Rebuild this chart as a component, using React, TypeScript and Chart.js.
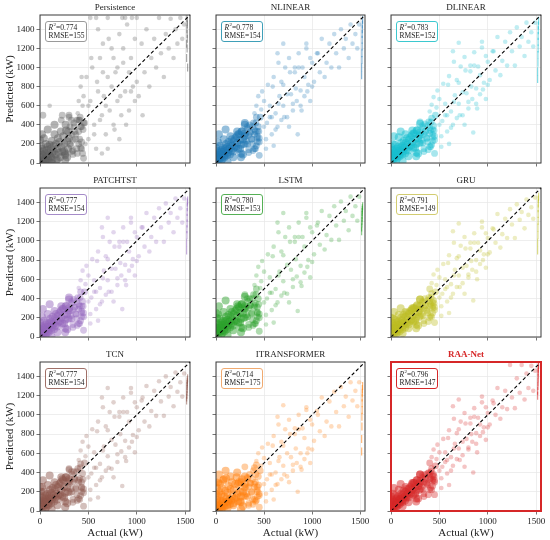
import React, { useEffect, useRef } from "react";
import { Chart, registerables } from "chart.js";

Chart.register(...registerables);

// ---------------- data ----------------
const MODELS = ["Persistence", "NLINEAR", "DLINEAR", "PATCHTST", "LSTM", "GRU", "TCN", "ITRANSFORMER", "RAA-Net"];
const R2_VALUES = ["0.774", "0.778", "0.783", "0.777", "0.780", "0.791", "0.777", "0.714", "0.796"];
const RMSE_VALUES = ["155", "154", "152", "154", "153", "149", "154", "175", "147"];
const X_TICKS = [0, 500, 1000, 1500];
const Y_TICKS = [0, 200, 400, 600, 800, 1000, 1200, 1400];
const AXIS_MAX = 1550;

// actual power (kW), shared test set (groups: low, low-2, low-3, mid, mid-2, high, rated)
const ACTUAL = [
  0, 0, 0, 5, 10, 10, 15, 20, 20, 25, 30, 35, 40, 40, 45, 50, 55, 60, 60, 65,
  70, 75, 80, 85, 90, 95, 100, 105, 110, 115, 120, 125, 130, 140, 145, 150, 160, 165, 170, 180,
  185, 190, 200, 210, 215, 220, 230, 240, 250, 260, 270, 280, 290, 300, 310, 320, 330, 340, 350, 360,
  20, 50, 80, 120, 150, 180, 220, 260, 300, 330, 370, 390, 400, 410, 420, 430, 440, 450, 30, 100,
  250, 265, 280, 295, 310, 325, 340, 355, 370, 385, 400, 415, 430, 445, 260, 300, 340, 380, 420, 230,
  380, 400, 410, 420, 430, 440, 450, 460, 480, 500, 520, 540, 560, 580, 600, 620, 640, 650, 660, 680,
  700, 720, 740, 760, 780, 800, 820, 840, 860, 880, 900, 920, 940, 960, 980, 1000, 450, 600, 700, 850,
  400, 430, 470, 500, 530, 560, 590, 620, 650, 680, 710, 740, 770, 800, 830, 860, 890, 920, 950, 980,
  520, 580, 640, 700, 760, 820, 880, 940, 1000, 1060,
  1020, 1050, 1080, 1100, 1130, 1150, 1180, 1200, 1230, 1250, 1280, 1300, 1330, 1350, 1380, 1400, 1420, 1450, 1470, 1490,
  1515, 1515, 1518, 1518, 1520, 1520, 1520, 1522, 1522, 1525,
];

const PRED_PERSISTENCE = [
  10, 120, 240, 60, 0, 180, 30, 90, 150, 5, 70, 20, 130, 260, 45, 100, 10, 200, 60, 30,
  140, 80, 170, 40, 110, 20, 190, 70, 150, 60, 230, 100, 40, 180, 120, 300, 90, 200, 30, 150,
  260, 110, 220, 60, 330, 170, 120, 280, 200, 100, 340, 230, 150, 260, 380, 180, 300, 240, 420, 330,
  300, 20, 350, 0, 400, 40, 450, 80, 500, 120, 300, 520, 200, 450, 380, 150, 600, 420, 500, 600,
  120, 400, 60, 330, 200, 450, 130, 380, 250, 100, 330, 480, 220, 350, 30, 480, 90, 450, 160, 500,
  150, 650, 250, 800, 380, 100, 700, 420, 900, 250, 650, 1000, 400, 150, 750, 1100, 500, 1250, 700, 300,
  900, 550, 1200, 400, 950, 650, 1350, 500, 1050, 750, 1450, 550, 1100, 800, 1300, 850, 50, 1400, 150, 1520,
  450, 900, 200, 600, 1100, 300, 850, 450, 950, 600, 1300, 800, 350, 1000, 700, 1200, 400, 950, 1520, 650,
  1520, 1520, 100, 1520, 1100, 250, 1520, 750, 1520, 500,
  700, 1250, 950, 1400, 800, 1100, 1300, 1000, 1520, 1150, 900, 1350, 1200, 1510, 1100, 1400, 1250, 1520, 1300, 1450,
  1100, 1250, 1400, 1520, 1350, 1480, 1200, 1300, 1450, 1000,
];
const PRED_NLINEAR = [
  40, 90, 160, 20, 60, 130, 80, 40, 110, 70, 30, 100, 60, 180, 90, 50, 140, 80, 120, 40,
  100, 160, 70, 120, 60, 150, 90, 200, 130, 80, 170, 110, 220, 150, 90, 200, 130, 250, 180, 120,
  230, 160, 260, 170, 280, 210, 150, 300, 240, 190, 330, 250, 200, 310, 280, 230, 360, 290, 400, 320,
  220, 0, 250, 10, 280, 60, 330, 100, 420, 200, 250, 420, 150, 330, 480, 260, 380, 220, 300, 350,
  150, 330, 90, 280, 200, 380, 140, 320, 250, 130, 300, 420, 220, 330, 60, 400, 110, 380, 180, 300,
  200, 520, 150, 600, 330, 700, 260, 480, 750, 380, 250, 820, 480, 300, 900, 520, 380, 1050, 700, 450,
  600, 1000, 480, 1100, 720, 550, 950, 650, 1150, 600, 1000, 700, 1200, 820, 650, 1050, 80, 180, 1250, 300,
  350, 280, 560, 650, 420, 600, 800, 350, 620, 850, 480, 720, 950, 620, 780, 1000, 550, 900, 750, 1100,
  150, 480, 1150, 820, 380, 1000, 760, 1250, 800, 1150,
  850, 1150, 950, 1300, 900, 1050, 1250, 1000, 1350, 1150, 1000, 1400, 1200, 1300, 1100, 1450, 1250, 1350, 1200, 1450,
  920, 1000, 1080, 1150, 1220, 1290, 1350, 1400, 1450, 1500,
];
const PRED_DLINEAR = [
  50, 100, 170, 30, 70, 140, 90, 50, 120, 80, 40, 110, 70, 190, 100, 60, 150, 90, 130, 50,
  110, 170, 80, 130, 70, 160, 100, 210, 140, 90, 180, 120, 230, 160, 100, 210, 140, 260, 190, 130,
  240, 170, 270, 180, 290, 220, 160, 310, 250, 200, 340, 260, 210, 320, 290, 240, 370, 300, 410, 330,
  200, 20, 270, 20, 300, 70, 340, 110, 430, 210, 260, 430, 170, 340, 470, 270, 390, 240, 280, 330,
  160, 340, 100, 290, 210, 390, 150, 330, 260, 140, 310, 430, 230, 340, 70, 410, 120, 390, 190, 310,
  220, 540, 170, 610, 350, 690, 280, 500, 760, 400, 280, 830, 500, 330, 910, 540, 400, 1060, 710, 470,
  620, 1010, 500, 1110, 730, 570, 960, 670, 1160, 620, 1010, 720, 1210, 840, 670, 1060, 100, 200, 1260, 320,
  370, 300, 580, 670, 440, 620, 820, 370, 640, 870, 500, 740, 970, 640, 800, 1020, 570, 920, 770, 1120,
  170, 500, 1170, 840, 400, 1020, 780, 1270, 820, 1170,
  870, 1170, 970, 1320, 920, 1070, 1270, 1020, 1370, 1170, 1020, 1420, 1220, 1320, 1120, 1470, 1270, 1370, 1220, 1470,
  880, 960, 1050, 1130, 1200, 1270, 1330, 1390, 1440, 1490,
];
const PRED_PATCHTST = [
  30, 80, 150, 20, 50, 120, 70, 30, 100, 60, 20, 90, 50, 170, 80, 40, 130, 70, 110, 30,
  90, 150, 60, 110, 50, 140, 80, 190, 120, 70, 160, 100, 210, 140, 80, 190, 120, 240, 170, 110,
  220, 150, 250, 160, 270, 200, 140, 290, 230, 180, 320, 240, 190, 300, 270, 220, 350, 280, 390, 310,
  210, 10, 240, 0, 270, 50, 320, 90, 410, 190, 240, 410, 140, 320, 470, 250, 370, 210, 290, 340,
  140, 320, 80, 270, 190, 370, 130, 310, 240, 120, 290, 410, 210, 320, 50, 390, 100, 370, 170, 290,
  190, 510, 140, 590, 320, 690, 250, 470, 740, 370, 240, 810, 470, 290, 890, 510, 370, 1040, 690, 440,
  590, 990, 470, 1090, 710, 540, 940, 640, 1140, 590, 990, 690, 1190, 810, 640, 1040, 70, 170, 1240, 290,
  340, 270, 550, 640, 410, 590, 790, 340, 610, 840, 470, 710, 940, 610, 770, 990, 540, 890, 740, 1090,
  140, 470, 1140, 810, 370, 990, 750, 1240, 790, 1140,
  840, 1140, 940, 1290, 890, 1040, 1240, 990, 1340, 1140, 990, 1390, 1190, 1290, 1090, 1440, 1240, 1340, 1190, 1440,
  900, 980, 1060, 1120, 1180, 1240, 1300, 1350, 1400, 1420,
];
const PRED_LSTM = [
  60, 150, 250, 40, 100, 200, 90, 50, 130, 80, 30, 120, 70, 190, 100, 60, 150, 90, 130, 40,
  110, 170, 70, 130, 60, 160, 100, 210, 140, 80, 180, 120, 230, 160, 100, 210, 140, 260, 180, 120,
  240, 160, 270, 170, 290, 220, 150, 310, 250, 190, 340, 250, 200, 320, 290, 230, 370, 300, 400, 330,
  240, 10, 260, 20, 290, 70, 340, 100, 440, 210, 240, 440, 140, 350, 500, 250, 400, 200, 320, 380,
  150, 340, 90, 300, 200, 400, 130, 330, 250, 120, 310, 440, 210, 340, 50, 420, 100, 400, 170, 320,
  180, 540, 140, 640, 310, 730, 240, 510, 790, 360, 230, 860, 460, 280, 940, 500, 360, 1090, 680, 430,
  580, 1040, 450, 1140, 700, 520, 990, 630, 1190, 570, 1040, 670, 1240, 800, 620, 1090, 60, 150, 1290, 270,
  330, 260, 580, 680, 400, 620, 840, 330, 640, 890, 460, 750, 990, 600, 810, 1040, 530, 940, 730, 1140,
  130, 460, 1190, 850, 360, 1040, 740, 1290, 780, 1190,
  860, 1160, 960, 1310, 910, 1060, 1260, 1010, 1360, 1160, 1010, 1410, 1210, 1310, 1110, 1460, 1260, 1360, 1210, 1460,
  1100, 1140, 1180, 1210, 1240, 1270, 1300, 1320, 1340, 1360,
];
const PRED_GRU = [
  50, 110, 200, 30, 80, 150, 90, 50, 120, 70, 30, 110, 70, 180, 100, 60, 150, 80, 130, 50,
  110, 160, 80, 130, 60, 150, 100, 200, 140, 80, 180, 120, 230, 150, 100, 210, 140, 250, 180, 130,
  240, 160, 270, 180, 280, 220, 160, 300, 240, 200, 330, 260, 210, 320, 290, 240, 360, 300, 400, 330,
  190, 30, 230, 40, 260, 90, 300, 130, 390, 220, 280, 410, 200, 340, 450, 300, 380, 280, 260, 300,
  170, 320, 120, 280, 220, 370, 170, 330, 270, 160, 320, 410, 250, 350, 90, 390, 140, 380, 210, 300,
  250, 500, 220, 560, 360, 650, 310, 470, 700, 410, 320, 760, 500, 370, 850, 550, 450, 980, 700, 520,
  640, 950, 560, 1040, 740, 620, 920, 700, 1080, 680, 980, 760, 1140, 860, 720, 1030, 150, 250, 1180, 380,
  370, 320, 540, 620, 450, 600, 770, 410, 640, 820, 520, 720, 920, 650, 790, 980, 600, 900, 800, 1080,
  220, 520, 1100, 840, 450, 980, 800, 1200, 860, 1120,
  880, 1130, 980, 1280, 930, 1070, 1230, 1030, 1330, 1170, 1030, 1380, 1220, 1300, 1130, 1430, 1270, 1350, 1230, 1450,
  900, 980, 1060, 1140, 1210, 1280, 1340, 1390, 1430, 1460,
];
const PRED_TCN = [
  70, 160, 250, 40, 110, 200, 90, 50, 140, 80, 30, 120, 70, 200, 100, 60, 160, 90, 130, 40,
  110, 180, 70, 130, 60, 160, 100, 220, 140, 80, 190, 120, 240, 160, 100, 220, 140, 270, 180, 120,
  250, 160, 280, 170, 300, 220, 150, 320, 250, 190, 350, 250, 200, 330, 290, 230, 380, 300, 410, 330,
  250, 10, 270, 20, 300, 60, 350, 100, 440, 200, 230, 440, 130, 340, 490, 240, 390, 190, 320, 370,
  140, 350, 80, 310, 190, 410, 120, 340, 240, 110, 300, 450, 200, 330, 40, 430, 90, 410, 160, 330,
  170, 530, 120, 630, 300, 720, 230, 500, 780, 350, 220, 850, 450, 270, 930, 490, 350, 1080, 670, 420,
  570, 1030, 440, 1130, 690, 510, 980, 620, 1180, 560, 1030, 660, 1230, 790, 610, 1080, 50, 140, 1280, 260,
  320, 250, 570, 670, 390, 610, 830, 320, 630, 880, 450, 740, 980, 590, 800, 1030, 520, 930, 720, 1130,
  120, 450, 1180, 840, 350, 1030, 730, 1280, 770, 1180,
  840, 1150, 930, 1300, 880, 1040, 1250, 990, 1350, 1140, 990, 1400, 1190, 1290, 1090, 1440, 1240, 1340, 1190, 1430,
  1150, 1180, 1210, 1240, 1270, 1300, 1320, 1340, 1360, 1380,
];
const PRED_ITRANSFORMER = [
  60, 180, 300, 40, 120, 240, 80, 30, 160, 90, 20, 200, 60, 280, 110, 40, 170, 80, 240, 30,
  100, 320, 60, 150, 50, 210, 90, 340, 130, 60, 190, 100, 260, 120, 70, 230, 110, 300, 150, 80,
  220, 130, 280, 140, 350, 180, 100, 300, 200, 150, 330, 200, 160, 280, 240, 180, 340, 250, 380, 290,
  300, 20, 330, 30, 360, 60, 400, 90, 460, 150, 200, 420, 120, 300, 480, 200, 360, 160, 380, 420,
  100, 300, 50, 250, 150, 350, 80, 290, 190, 70, 250, 380, 150, 270, 20, 360, 60, 330, 110, 280,
  120, 450, 100, 520, 250, 600, 180, 420, 660, 280, 180, 700, 380, 220, 780, 400, 280, 900, 560, 330,
  470, 850, 360, 950, 560, 420, 800, 500, 1000, 460, 860, 540, 1050, 650, 500, 900, 40, 120, 1100, 200,
  280, 220, 470, 550, 330, 500, 680, 270, 520, 720, 380, 600, 800, 480, 650, 850, 430, 760, 600, 950,
  100, 380, 980, 680, 300, 860, 600, 1080, 640, 1000,
  730, 1040, 830, 1180, 780, 930, 1140, 880, 1240, 1030, 880, 1290, 1090, 1190, 980, 1340, 1150, 1250, 1090, 1340,
  620, 750, 880, 980, 1050, 1120, 1180, 1230, 1270, 1300,
];
const PRED_RAANET = [
  40, 90, 150, 20, 60, 120, 70, 40, 100, 60, 30, 100, 60, 160, 80, 50, 130, 80, 110, 50,
  100, 150, 80, 120, 70, 140, 100, 180, 130, 90, 170, 120, 210, 150, 110, 200, 140, 230, 180, 140,
  230, 170, 250, 190, 270, 220, 170, 290, 250, 210, 320, 260, 220, 310, 290, 250, 350, 300, 380, 330,
  180, 30, 220, 50, 250, 90, 290, 130, 380, 220, 290, 400, 220, 340, 440, 310, 380, 300, 240, 280,
  180, 320, 130, 290, 230, 370, 180, 340, 280, 170, 330, 410, 260, 360, 100, 380, 150, 390, 220, 290,
  270, 500, 240, 560, 370, 640, 320, 470, 690, 420, 340, 750, 510, 390, 840, 560, 470, 960, 700, 540,
  650, 930, 580, 1020, 750, 640, 910, 720, 1070, 700, 970, 780, 1130, 870, 740, 1020, 170, 270, 1160, 400,
  380, 330, 540, 610, 460, 610, 760, 420, 650, 810, 530, 720, 910, 660, 800, 980, 610, 900, 820, 1080,
  240, 530, 1090, 850, 460, 970, 810, 1190, 870, 1120,
  900, 1150, 1000, 1280, 960, 1080, 1250, 1060, 1520, 1180, 1070, 1380, 1230, 1520, 1160, 1430, 1280, 1510, 1250, 1460,
  1200, 1250, 1300, 1340, 1380, 1420, 1450, 1480, 1500, 1520,
];

const PREDICTIONS = [
  PRED_PERSISTENCE, PRED_NLINEAR, PRED_DLINEAR, PRED_PATCHTST, PRED_LSTM,
  PRED_GRU, PRED_TCN, PRED_ITRANSFORMER, PRED_RAANET,
];

// ---------------- styles ----------------
const POINT_RGB = [
  "95,95,95", "31,119,180", "23,190,207", "148,103,189", "44,160,44",
  "188,189,34", "140,86,75", "255,127,14", "214,39,40",
];
const BOX_COLORS = [
  "#9a9a9a", "#3f9fb8", "#3cc8cf", "#a58bc8", "#55b055",
  "#d2cc70", "#a07068", "#f0aa70", "#d62728",
];
const FONT = "'Liberation Serif', 'Times New Roman', serif";
const COL_L = [40, 216, 391];
const COL_R = [190, 365, 541];
const ROW_T = [15, 188, 362];
const ROW_B = [163, 337, 511];
const Y_W = 40;
const PAD_T = 15;
const PAD_R = 9;
const X_H = 29;

function Panel({ idx }: { idx: number }) {
  const ref = useRef<HTMLCanvasElement | null>(null);
  const col = idx % 3;
  const row = Math.floor(idx / 3);
  const L = COL_L[col], R = COL_R[col], T = ROW_T[row], B = ROW_B[row];
  const width = R - L + Y_W + PAD_R;
  const height = B - T + PAD_T + X_H;
  const isBest = idx === 8;

  useEffect(() => {
    const canvas = ref.current;
    if (!canvas) return;
    const preds = PREDICTIONS[idx];
    const points = ACTUAL.map((a, i) => ({ x: a, y: preds[i] }));
    const rgb = POINT_RGB[idx];

    // style tiers by region of the plot (styling only)
    const tier = (p: any) => {
      if (!p) return 3;
      if (p.x >= 1510) return 0; // rated-power streak
      if (p.x <= 300 && p.y <= 420) return 1; // dense core
      if (p.x <= 460 && p.y <= 500) return 2; // core fringe
      return 3; // diffuse cloud
    };
    const RADII = [4, 4, 3.4, 2.3];
    const ALPHAS = [0.55, 0.48, 0.38, idx === 0 ? 0.3 : 0.27];

    const panelPlugin = {
      id: "panelDecor",
      afterDatasetsDraw(chart: any) {
        const { ctx, scales } = chart;
        const xs = scales.x, ys = scales.y;
        ctx.save();
        ctx.beginPath();
        ctx.setLineDash([3.5, 2.5]);
        ctx.strokeStyle = "#000";
        ctx.lineWidth = 1.1;
        ctx.moveTo(xs.getPixelForValue(0), ys.getPixelForValue(0));
        ctx.lineTo(xs.getPixelForValue(AXIS_MAX), ys.getPixelForValue(AXIS_MAX));
        ctx.stroke();
        ctx.restore();
      },
      afterDraw(chart: any) {
        const { ctx, chartArea } = chart;
        const { left, top, right, bottom } = chartArea;
        ctx.save();
        // frame
        ctx.setLineDash([]);
        ctx.strokeStyle = isBest ? "#d62728" : "#3a3a3a";
        ctx.lineWidth = isBest ? 2 : 1;
        ctx.strokeRect(left, top, right - left, bottom - top);

        // metrics box
        const bx = left + 5.5, by = top + 6.5, bw = 41, bh = 20;
        ctx.beginPath();
        ctx.roundRect(bx, by, bw, bh, 2.5);
        ctx.fillStyle = "rgba(255,255,255,0.9)";
        ctx.fill();
        ctx.strokeStyle = BOX_COLORS[idx];
        ctx.lineWidth = 1;
        ctx.stroke();
        ctx.fillStyle = "#222";
        ctx.textBaseline = "middle";
        ctx.textAlign = "left";
        let tx = bx + 3;
        const ly1 = by + 6.2, ly2 = by + 14.5;
        ctx.font = `italic 7.5px ${FONT}`;
        ctx.fillText("R", tx, ly1);
        tx += ctx.measureText("R").width;
        ctx.font = `5px ${FONT}`;
        ctx.fillText("2", tx + 0.3, ly1 - 2.6);
        tx += ctx.measureText("2").width + 0.5;
        ctx.font = `7.5px ${FONT}`;
        ctx.fillText("=" + R2_VALUES[idx], tx, ly1);
        ctx.fillText("RMSE=" + RMSE_VALUES[idx], bx + 3, ly2);

        // title
        ctx.textAlign = "center";
        ctx.font = `${isBest ? "bold " : ""}9px ${FONT}`;
        ctx.fillStyle = isBest ? "#d62728" : "#222";
        ctx.fillText(MODELS[idx], (left + right) / 2, top - 7.5);

        // axis titles
        ctx.fillStyle = "#222";
        ctx.font = `11px ${FONT}`;
        if (col === 0) {
          ctx.save();
          ctx.translate(10, (top + bottom) / 2);
          ctx.rotate(-Math.PI / 2);
          ctx.fillText("Predicted (kW)", 0, 0);
          ctx.restore();
        }
        if (row === 2) {
          ctx.fillText("Actual (kW)", (left + right) / 2, bottom + 22);
        }
        ctx.restore();
      },
    };

    const chart = new Chart(canvas, {
      type: "scatter",
      data: {
        datasets: [
          {
            data: points,
            pointStyle: (c: any) => (tier(c.raw) === 0 ? "line" : "circle"),
            rotation: (c: any) => (tier(c.raw) === 0 ? 90 : 0),
            pointRadius: (c: any) => RADII[tier(c.raw)],
            pointHoverRadius: (c: any) => RADII[tier(c.raw)],
            pointBorderWidth: (c: any) => (tier(c.raw) === 0 ? 1.2 : 0),
            borderWidth: 0,
            pointBorderColor: (c: any) => `rgba(${rgb},${ALPHAS[tier(c.raw)]})`,
            backgroundColor: (c: any) => `rgba(${rgb},${ALPHAS[tier(c.raw)]})`,
          } as any,
        ],
      },
      options: {
        animation: false,
        responsive: false,
        events: [],
        layout: { padding: { left: 0, top: PAD_T, right: PAD_R, bottom: 0 } },
        plugins: {
          legend: { display: false },
          tooltip: { enabled: false },
          title: { display: false },
        },
        scales: {
          x: {
            type: "linear",
            min: 0,
            max: AXIS_MAX,
            afterBuildTicks: (s: any) => {
              s.ticks = X_TICKS.map((v) => ({ value: v }));
            },
            afterFit: (s: any) => {
              s.height = X_H;
            },
            ticks: {
              autoSkip: false,
              maxRotation: 0,
              padding: 2,
              color: "#222",
              font: { family: FONT, size: 9 },
              callback: (v: any) => (row === 2 ? String(v) : ""),
            },
            grid: { color: "#e6e6e6", lineWidth: 0.7, tickColor: "#3a3a3a", tickLength: 3.5 },
            border: { display: false },
          },
          y: {
            type: "linear",
            min: 0,
            max: AXIS_MAX,
            afterBuildTicks: (s: any) => {
              s.ticks = Y_TICKS.map((v) => ({ value: v }));
            },
            afterFit: (s: any) => {
              s.width = Y_W;
            },
            ticks: {
              autoSkip: false,
              padding: 2,
              color: "#222",
              font: { family: FONT, size: 9 },
              callback: (v: any) => (col === 0 ? String(v) : ""),
            },
            grid: { color: "#e6e6e6", lineWidth: 0.7, tickColor: "#3a3a3a", tickLength: 3.5 },
            border: { display: false },
          },
        },
      } as any,
      plugins: [panelPlugin],
    });
    return () => chart.destroy();
  }, [idx]);

  return (
    <canvas
      ref={ref}
      width={width}
      height={height}
      style={{ position: "absolute", left: L - Y_W, top: T - PAD_T, width, height }}
    />
  );
}

export default function App() {
  return (
    <div
      style={{
        position: "absolute",
        left: 0,
        top: 0,
        width: 550,
        height: 540,
        background: "#fff",
        overflow: "hidden",
      }}
    >
      {MODELS.map((m, i) => (
        <Panel key={m} idx={i} />
      ))}
    </div>
  );
}
